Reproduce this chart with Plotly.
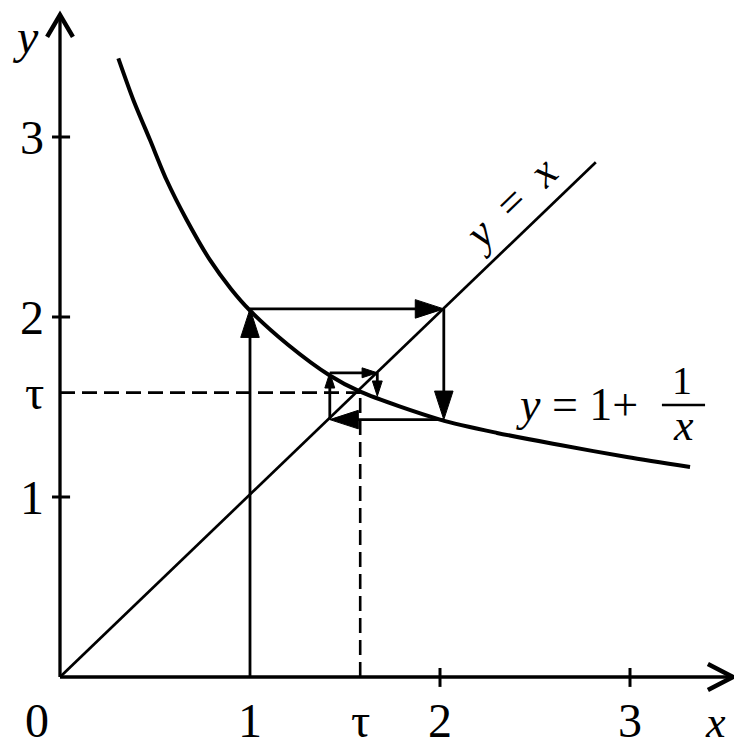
import plotly.graph_objects as go

# curve y = 1 + 1/x
curve_x = [0.307, 0.386, 0.474, 0.561, 0.667, 0.789, 0.9, 1.0, 1.2, 1.42, 1.58,
           2.0, 2.3, 2.632, 2.984, 3.316]
curve_y = [3.437, 3.206, 2.983, 2.761, 2.539, 2.317, 2.156, 2.036, 1.846, 1.675, 1.585,
           1.43, 1.356, 1.289, 1.222, 1.167]

# line y = x
diag_x = [0, 2.82]
diag_y = [0, 2.86]

# cobweb iteration path, starting from x = 1
web_x = [1.0, 1.0, 2.02, 2.02, 1.42, 1.42, 1.67, 1.67]
web_y = [0.0, 2.045, 2.045, 1.43, 1.43, 1.69, 1.69, 1.56]
web_head = [30, 30, 30, 30, 16, 16, 16]

tau = 1.58

x_tick_vals = [2, 3]
y_tick_vals = [1, 2, 3]
x_label_vals = [1, tau, 2, 3]
x_label_text = ['1', 'τ', '2', '3']
y_label_vals = [1, tau, 2, 3]
y_label_text = ['1', 'τ', '2', '3']

x_end = 3.542
y_end = 3.678

BLACK = 'black'
SERIF = 'Liberation Serif, Times New Roman, serif'
W, H = 734, 738   # page has an 8px body margin

fig = go.Figure()

# axes
fig.add_trace(go.Scatter(x=[0, x_end], y=[0, 0], mode='lines', line=dict(color=BLACK, width=3.3)))
fig.add_trace(go.Scatter(x=[0, 0], y=[0, y_end], mode='lines', line=dict(color=BLACK, width=3.3)))
fig.add_trace(go.Scatter(x=[x_end - 0.132, x_end, x_end - 0.132], y=[0.072, 0, -0.072],
                         mode='lines', line=dict(color=BLACK, width=4.5)))
fig.add_trace(go.Scatter(x=[-0.068, 0, 0.068], y=[y_end - 0.122, y_end, y_end - 0.122],
                         mode='lines', line=dict(color=BLACK, width=4.5)))

# tick marks
tx, ty = [], []
for v in x_tick_vals:
    tx += [v, v, None]
    ty += [-0.055, 0.05, None]
for v in y_tick_vals:
    tx += [-0.042, 0.053, None]
    ty += [v, v, None]
fig.add_trace(go.Scatter(x=tx, y=ty, mode='lines', line=dict(color=BLACK, width=3)))

# dashed tau guides
fig.add_trace(go.Scatter(x=[0, tau], y=[tau, tau], mode='lines',
                         line=dict(color=BLACK, width=2.6, dash='15px,7px')))
fig.add_trace(go.Scatter(x=[tau, tau], y=[0, tau], mode='lines',
                         line=dict(color=BLACK, width=2.6, dash='15px,7px')))

# y = x and the curve
fig.add_trace(go.Scatter(x=diag_x, y=diag_y, mode='lines', line=dict(color=BLACK, width=2.7)))
fig.add_trace(go.Scatter(x=curve_x, y=curve_y, mode='lines',
                         line=dict(color=BLACK, width=4, shape='spline', smoothing=0.8)))

# cobweb arrows
for i in range(len(web_x) - 1):
    fig.add_trace(go.Scatter(
        x=[web_x[i], web_x[i + 1]], y=[web_y[i], web_y[i + 1]],
        mode='lines+markers',
        line=dict(color=BLACK, width=2.8),
        marker=dict(symbol='arrow', size=[0, web_head[i]], angleref='previous',
                    color=BLACK, opacity=1, line=dict(width=1, color=BLACK)),
    ))

# text
ann = []
for v, t in zip(x_label_vals, x_label_text):
    ann.append(dict(x=v, y=-0.239, text=t, showarrow=False, font=dict(size=48)))
ann.append(dict(x=-0.121, y=-0.239, text='0', showarrow=False, font=dict(size=48)))
for v, t in zip(y_label_vals, y_label_text):
    ann.append(dict(x=-0.075, y=v, text=t, showarrow=False, xanchor='right', font=dict(size=48)))
ann.append(dict(x=-0.184, y=3.556, text='<i>y</i>', showarrow=False, font=dict(size=48)))
ann.append(dict(x=3.45, y=-0.25, text='<i>x</i>', showarrow=False, font=dict(size=44)))
ann.append(dict(x=2.37, y=2.63, text='<i>y</i>\u00a0\u00a0=\u00a0\u00a0<i>x</i>', textangle=-44,
                showarrow=False, font=dict(size=44)))
ann.append(dict(x=2.72, y=1.515, text='<i>y</i> = 1+', showarrow=False, font=dict(size=46)))
ann.append(dict(x=3.274, y=1.65, text='1', showarrow=False, font=dict(size=40)))
ann.append(dict(x=3.279, y=1.395, text='<i>x</i>', showarrow=False, font=dict(size=44)))

fig.update_layout(
    width=W, height=H,
    margin=dict(l=0, r=0, t=0, b=0),
    paper_bgcolor='white', plot_bgcolor='white',
    showlegend=False,
    font=dict(family=SERIF, color=BLACK),
    xaxis=dict(range=[-52 / 190, (W - 52) / 190], visible=False),
    yaxis=dict(range=[(669 - H) / 180, 669 / 180], visible=False),
    annotations=ann,
    shapes=[dict(type='line', x0=3.168, x1=3.395, y0=1.511, y1=1.511,
                 line=dict(color=BLACK, width=2.5))],
)

fig.write_html("out.html")
